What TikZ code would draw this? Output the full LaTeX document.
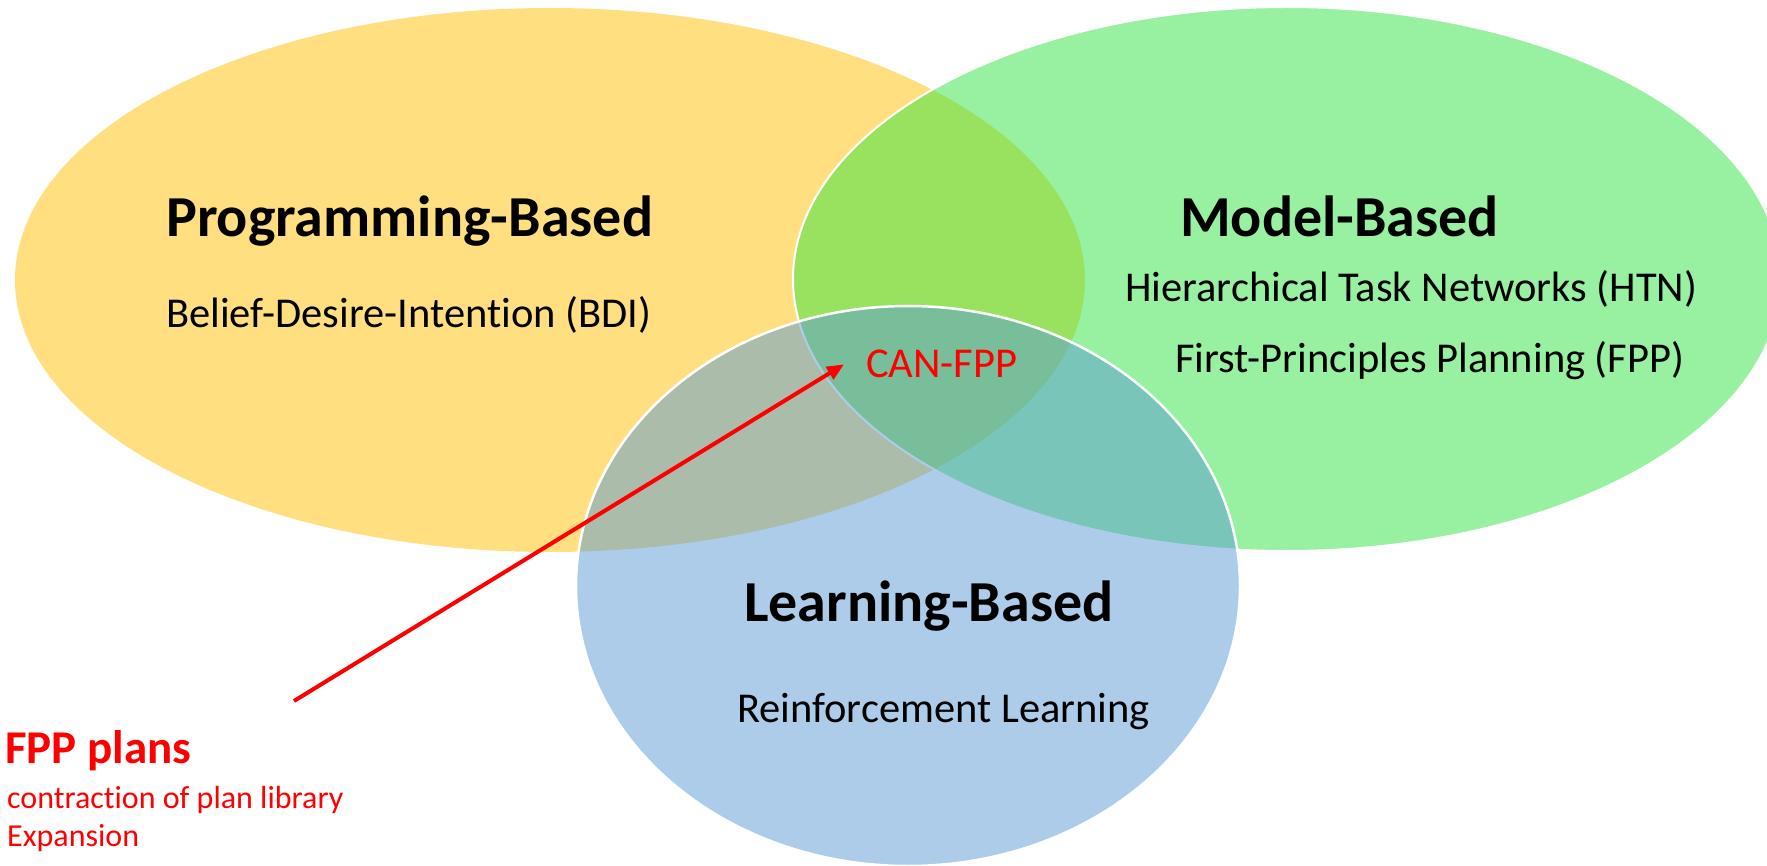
\documentclass[tikz,border=0pt]{standalone}
\usepackage{fontspec}
\setmainfont{Carlito}[Ligatures=NoCommon]
\usetikzlibrary{arrows.meta}

\definecolor{goldfill}{RGB}{255,192,0}
\definecolor{greenfill}{RGB}{51,229,67}
\definecolor{bluefill}{RGB}{91,155,213}
\definecolor{alertred}{RGB}{255,0,0}

\tikzset{
  setfill/.style={fill=#1, fill opacity=0.5},
  heading/.style={anchor=base west, inner sep=0pt, font=\fontsize{58}{70}\selectfont\bfseries},
  entry/.style={anchor=base west, inner sep=0pt, font=\fontsize{42.5}{50}\selectfont},
  notehead/.style={anchor=base west, inner sep=0pt, text=alertred, font=\fontsize{47}{56}\selectfont\bfseries},
  noteline/.style={anchor=base west, inner sep=0pt, text=alertred, font=\fontsize{32}{38}\selectfont},
  pointer/.style={draw=alertred, line width=4pt, -{Triangle[length=17pt,width=14pt]}}
}

\begin{document}
\begin{tikzpicture}[x=1pt, y=-1pt]
  % canvas
  \fill[white] (0,0) rectangle (1767,866);
  \useasboundingbox (0,0) rectangle (1767,866);
  \clip (0,0) rectangle (1767,866);

  % the three overlapping sets
  \fill[setfill=goldfill] (550,280) ellipse [x radius=535, y radius=272];
  \path[setfill=greenfill, draw=white, line width=2pt] (1287,279) ellipse [x radius=494, y radius=272];
  \path[setfill=bluefill, draw=white, line width=2.5pt] (908,586) ellipse [x radius=332, y radius=280];

  % set labels
  \node[heading] (prog) at (166,237) {Programming-Based};
  \node[entry]   (bdi)  at (166,328) {Belief-Desire-Intention (BDI)};

  \node[heading] (model) at (1180,237) {Model-Based};
  \node[entry]   (htn)   at (1125,302) {Hierarchical Task Networks (HTN)};
  \node[entry]   (fpp)   at (1175,373) {First-Principles Planning (FPP)};

  \node[heading] (learn) at (744,621) {Learning-Based};
  \node[entry]   (rl)    at (737,722) {Reinforcement Learning};

  \node[entry, text=alertred] (can) at (866,378) {CAN-FPP};

  % annotation
  \node[notehead] (plans)  at (5,763) {FPP plans};
  \node[noteline] (contr)  at (7,808) {contraction of plan library};
  \node[noteline] (expand) at (7,846) {Expansion};

  \coordinate (tail) at (294,701);
  \draw[pointer] (tail) -- ([xshift=-22pt]can.west);
\end{tikzpicture}
\end{document}
